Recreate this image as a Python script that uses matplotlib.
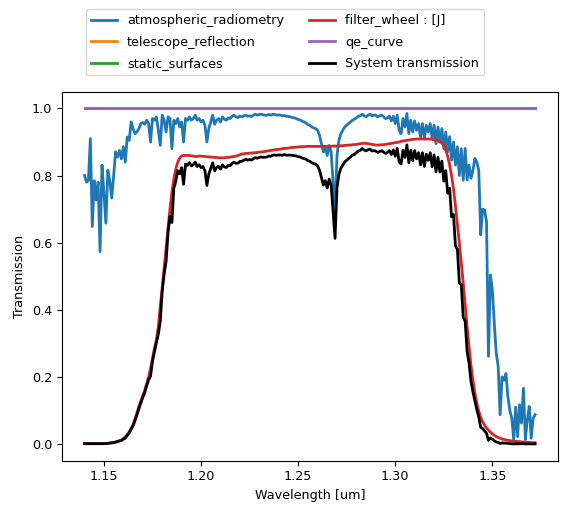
import numpy as np
import matplotlib
matplotlib.use('Agg')
import matplotlib.pyplot as plt

plt.rcParams.update({'font.size': 9.2})

# wavelength grid [um], 1 nm steps
wavelength = np.arange(1140, 1373) / 1000.0

atmospheric_radiometry = [
    0.80, 0.78, 0.785, 0.91, 0.648, 0.785, 0.727, 0.78, 0.573, 0.831,
    0.748, 0.658, 0.816, 0.785, 0.733, 0.80, 0.871, 0.855, 0.875, 0.85,
    0.886, 0.84, 0.915, 0.905, 0.96, 0.94, 0.925, 0.93, 0.94, 0.955,
    0.958, 0.953, 0.965, 0.955, 0.90, 0.97, 0.965, 0.975, 0.935, 0.89,
    0.98, 0.965, 0.93, 0.975, 0.97, 0.88, 0.965, 0.955, 0.97, 0.945,
    0.96, 0.90, 0.97, 0.965, 0.975, 0.965, 0.97, 0.98, 0.965, 0.97,
    0.96, 0.965, 0.95, 0.90, 0.94, 0.96, 0.98, 0.953, 0.965, 0.97,
    0.96, 0.975, 0.968, 0.965, 0.972, 0.970, 0.977, 0.98, 0.975, 0.973,
    0.977, 0.975, 0.978, 0.98, 0.977, 0.978, 0.976, 0.98, 0.983, 0.98,
    0.982, 0.983, 0.981, 0.98, 0.98, 0.982, 0.98, 0.983, 0.982, 0.98,
    0.981, 0.98, 0.978, 0.979, 0.977, 0.976, 0.975, 0.973, 0.972, 0.97,
    0.967, 0.966, 0.962, 0.96, 0.957, 0.952, 0.95, 0.945, 0.942, 0.94,
    0.935, 0.92, 0.895, 0.87, 0.885, 0.86, 0.89, 0.87, 0.78, 0.69,
    0.86, 0.905, 0.925, 0.935, 0.945, 0.95, 0.955, 0.96, 0.965, 0.968,
    0.972, 0.977, 0.978, 0.983, 0.978, 0.975, 0.98, 0.983, 0.978, 0.98,
    0.98, 0.975, 0.978, 0.98, 0.975, 0.97, 0.972, 0.977, 0.963, 0.977,
    0.955, 0.98, 0.935, 0.925, 0.97, 0.945, 0.985, 0.925, 0.965, 0.93,
    0.963, 0.935, 0.955, 0.915, 0.955, 0.91, 0.95, 0.93, 0.955, 0.91,
    0.95, 0.895, 0.945, 0.90, 0.94, 0.88, 0.93, 0.871, 0.916, 0.846,
    0.90, 0.831, 0.886, 0.80, 0.88, 0.786, 0.881, 0.787, 0.831, 0.792,
    0.816, 0.851, 0.84, 0.816, 0.623, 0.70, 0.697, 0.663, 0.261, 0.504,
    0.46, 0.36, 0.271, 0.231, 0.087, 0.20, 0.19, 0.21, 0.141, 0.10,
    0.077, 0.013, 0.11, 0.022, 0.117, 0.062, 0.166, 0.013, 0.072, 0.112,
    0.017, 0.077, 0.087,
]

filter_J = [
    0.001, 0.001, 0.001, 0.001, 0.001, 0.001, 0.001, 0.001, 0.001, 0.001,
    0.001, 0.002, 0.002, 0.003, 0.004, 0.005, 0.006, 0.008, 0.010, 0.012,
    0.016, 0.021, 0.028, 0.036, 0.046, 0.058, 0.075, 0.093, 0.112, 0.128,
    0.145, 0.160, 0.180, 0.200, 0.225, 0.255, 0.285, 0.31, 0.35, 0.41,
    0.465, 0.525, 0.585, 0.645, 0.70, 0.75, 0.79, 0.82, 0.84, 0.852,
    0.858, 0.860, 0.860, 0.860, 0.860, 0.859, 0.858, 0.857, 0.857, 0.858,
    0.858, 0.857, 0.857, 0.856, 0.856, 0.855, 0.855, 0.854, 0.854, 0.853,
    0.853, 0.853, 0.853, 0.854, 0.854, 0.855, 0.856, 0.857, 0.858, 0.860,
    0.862, 0.864, 0.865, 0.866, 0.866, 0.867, 0.867, 0.868, 0.868, 0.869,
    0.870, 0.870, 0.871, 0.872, 0.873, 0.874, 0.875, 0.876, 0.877, 0.878,
    0.878, 0.879, 0.880, 0.881, 0.881, 0.882, 0.883, 0.884, 0.884, 0.885,
    0.885, 0.886, 0.886, 0.886, 0.887, 0.887, 0.887, 0.887, 0.887, 0.887,
    0.887, 0.887, 0.887, 0.887, 0.887, 0.887, 0.887, 0.887, 0.888, 0.888,
    0.888, 0.888, 0.889, 0.889, 0.890, 0.890, 0.891, 0.891, 0.892, 0.892,
    0.893, 0.894, 0.895, 0.896, 0.896, 0.896, 0.895, 0.894, 0.893, 0.892,
    0.891, 0.891, 0.891, 0.892, 0.892, 0.893, 0.894, 0.895, 0.896, 0.897,
    0.898, 0.899, 0.900, 0.902, 0.903, 0.904, 0.905, 0.906, 0.907, 0.908,
    0.908, 0.909, 0.909, 0.909, 0.909, 0.909, 0.909, 0.909, 0.909, 0.908,
    0.907, 0.906, 0.904, 0.901, 0.897, 0.890, 0.876, 0.858, 0.832, 0.80,
    0.76, 0.71, 0.655, 0.60, 0.54, 0.48, 0.415, 0.35, 0.29, 0.235,
    0.19, 0.152, 0.122, 0.098, 0.080, 0.066, 0.056, 0.048, 0.041, 0.035,
    0.030, 0.026, 0.022, 0.019, 0.017, 0.015, 0.013, 0.012, 0.011, 0.010,
    0.009, 0.008, 0.008, 0.007, 0.007, 0.006, 0.006, 0.005, 0.005, 0.005,
    0.004, 0.004, 0.004,
]

n = len(wavelength)
telescope_reflection = [1.0] * n
static_surfaces = [1.0] * n
qe_curve = [1.0] * n

assert len(atmospheric_radiometry) == n and len(filter_J) == n

system = (np.array(atmospheric_radiometry) * np.array(telescope_reflection)
          * np.array(static_surfaces) * np.array(filter_J) * np.array(qe_curve))

fig = plt.figure(figsize=(5.67, 5.14), dpi=100)
ax = fig.add_axes([62 / 567, 53.3 / 514, 495.6 / 567, 369 / 514])

ax.plot(wavelength, atmospheric_radiometry, lw=2, label='atmospheric_radiometry')
ax.plot(wavelength, telescope_reflection, lw=2, label='telescope_reflection')
ax.plot(wavelength, static_surfaces, lw=2, label='static_surfaces')
ax.plot(wavelength, filter_J, lw=2, label='filter_wheel : [J]')
ax.plot(wavelength, qe_curve, lw=2, label='qe_curve')
ax.plot(wavelength, system, lw=2, color='k', label='System transmission')

ax.set_xlabel('Wavelength [um]')
ax.set_ylabel('Transmission')

fig.legend(*ax.get_legend_handles_labels(), ncol=2, loc='upper left',
           bbox_to_anchor=(86 / 567, 1 - 9.3 / 514), borderaxespad=0,
           labelspacing=0.65)

fig.savefig('out.png', dpi=100)
